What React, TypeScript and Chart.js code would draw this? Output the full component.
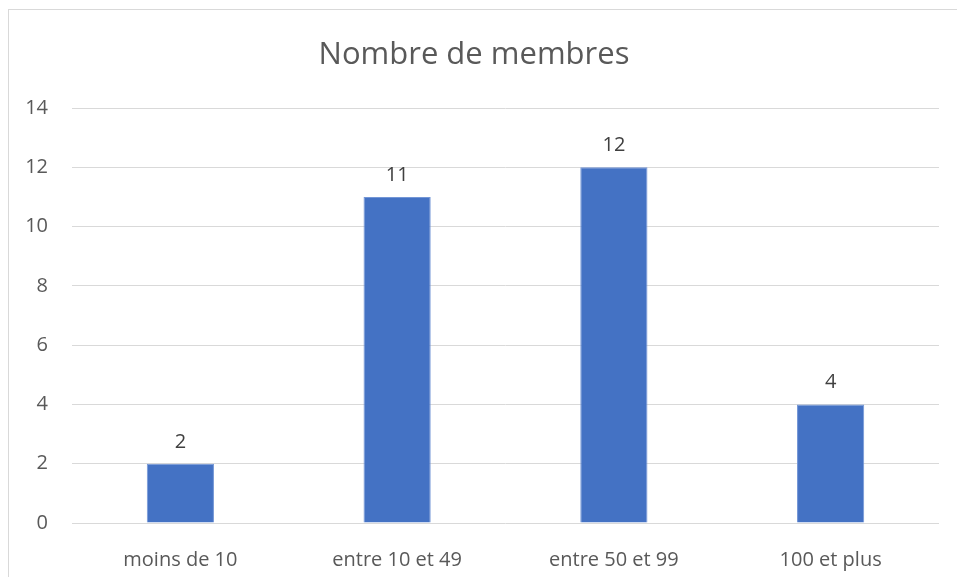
import React, { useEffect, useRef } from "react";
import { Chart, registerables } from "chart.js";

Chart.register(...registerables);

const categories = ["moins de 10", "entre 10 et 49", "entre 50 et 99", "100 et plus"];
const values = [2, 11, 12, 4];
const chartTitle = "Nombre de membres";
const yMin = 0;
const yMax = 14;
const yStep = 2;

const FONT = "'Open Sans', 'Noto Sans', sans-serif";

const dataLabelPlugin = {
  id: "dataLabels",
  afterDatasetsDraw(chart: any) {
    const ctx = chart.ctx;
    const meta = chart.getDatasetMeta(0);
    ctx.save();
    ctx.fillStyle = "#404040";
    ctx.font = `20px ${FONT}`;
    ctx.textAlign = "center";
    ctx.textBaseline = "alphabetic";
    meta.data.forEach((bar: any, i: number) => {
      ctx.fillText(String(values[i]), bar.x, bar.y - 16);
    });
    ctx.restore();
  },
};

export default function App() {
  const canvasRef = useRef<HTMLCanvasElement | null>(null);

  useEffect(() => {
    if (!canvasRef.current) return;
    const chart = new Chart(canvasRef.current, {
      type: "bar",
      data: {
        labels: categories,
        datasets: [
          {
            data: values,
            backgroundColor: "#4472C4",
            borderColor: "#7396d6",
            borderWidth: 1,
            barPercentage: 0.31,
            categoryPercentage: 1,
          },
        ],
      },
      options: {
        animation: false,
        responsive: false,
        maintainAspectRatio: false,
        layout: { padding: { left: 0, right: 18, top: 0, bottom: 0 } },
        plugins: {
          legend: { display: false },
          tooltip: { enabled: false },
          title: {
            display: true,
            text: chartTitle,
            color: "#595959",
            font: { family: FONT, size: 31, weight: "normal" },
            padding: { top: 27, bottom: 33.8 },
          },
        },
        scales: {
          x: {
            grid: { display: false },
            border: { display: false },
            ticks: {
              color: "#595959",
              font: { family: FONT, size: 20 },
              padding: 17,
              maxRotation: 0,
            },
            afterFit: (scale: any) => {
              scale.height = 54;
            },
          },
          y: {
            min: yMin,
            max: yMax,
            grid: { color: "#d9d9d9", lineWidth: 1, drawTicks: false },
            border: { display: false },
            ticks: {
              stepSize: yStep,
              color: "#595959",
              font: { family: FONT, size: 20 },
              padding: 24,
            },
            afterFit: (scale: any) => {
              scale.width = 63;
            },
          },
        },
      },
      plugins: [dataLabelPlugin],
    });
    return () => chart.destroy();
  }, []);

  return (
    <div
      style={{
        position: "fixed",
        left: 8,
        top: 9,
        width: 949,
        height: 568,
        borderLeft: "1px solid #d9d9d9",
        borderTop: "1px solid #d9d9d9",
        background: "#fff",
      }}
    >
      <canvas ref={canvasRef} width={948} height={567} style={{ display: "block" }} />
    </div>
  );
}
